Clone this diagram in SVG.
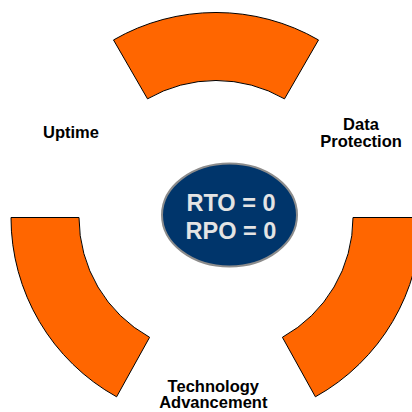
<svg xmlns="http://www.w3.org/2000/svg" width="412" height="412" viewBox="0 0 412 412">
  <style>
    .band { fill: #FF6600; stroke: #000000; stroke-width: 1; stroke-linejoin: miter; }
    .label { font-family: "Liberation Sans", Arial, sans-serif; font-weight: bold; font-size: 16.5px; fill: #000000; text-anchor: middle; }
    .core-text { font-family: "Liberation Sans", Arial, sans-serif; font-weight: bold; font-size: 23.5px; fill: #E4E4E4; text-anchor: middle; }
  </style>
  <rect width="412" height="412" fill="#FFFFFF"/>

  <!-- ring segments, centre (216,217.5), outer radius 205, inner radius 137 -->
  <g id="segment-top">
    <path class="band" d="M113.5,39.96 A205,205 0 0 1 318.5,39.96 L284.5,98.85 A137,137 0 0 0 147.5,98.85 Z"/>
  </g>
  <g id="segment-right">
    <path class="band" d="M353,217.5 L421,217.5 A205,205 0 0 1 315.4,396.8 L282.4,337.3 A137,137 0 0 0 353,217.5 Z"/>
  </g>
  <g id="segment-left">
    <path class="band" d="M79,217.5 L11,217.5 A205,205 0 0 0 116.6,396.8 L149.6,337.3 A137,137 0 0 1 79,217.5 Z"/>
  </g>

  <!-- centre node -->
  <g id="core">
    <ellipse cx="229.5" cy="215" rx="67.5" ry="51.5" fill="#00356B" stroke="#8C8C8C" stroke-width="2"/>
    <text class="core-text" x="231" y="211">RTO = 0</text>
    <text class="core-text" x="231" y="238.5">RPO = 0</text>
  </g>

  <!-- labels -->
  <g id="label-uptime">
    <text class="label" x="71" y="138.3">Uptime</text>
  </g>
  <g id="label-data-protection">
    <text class="label" x="361" y="130">Data</text>
    <text class="label" x="361" y="147.3">Protection</text>
  </g>
  <g id="label-technology">
    <text class="label" x="213.3" y="391.7">Technology</text>
    <text class="label" x="213.3" y="408.3">Advancement</text>
  </g>

  <g id="connectors"/>
</svg>
